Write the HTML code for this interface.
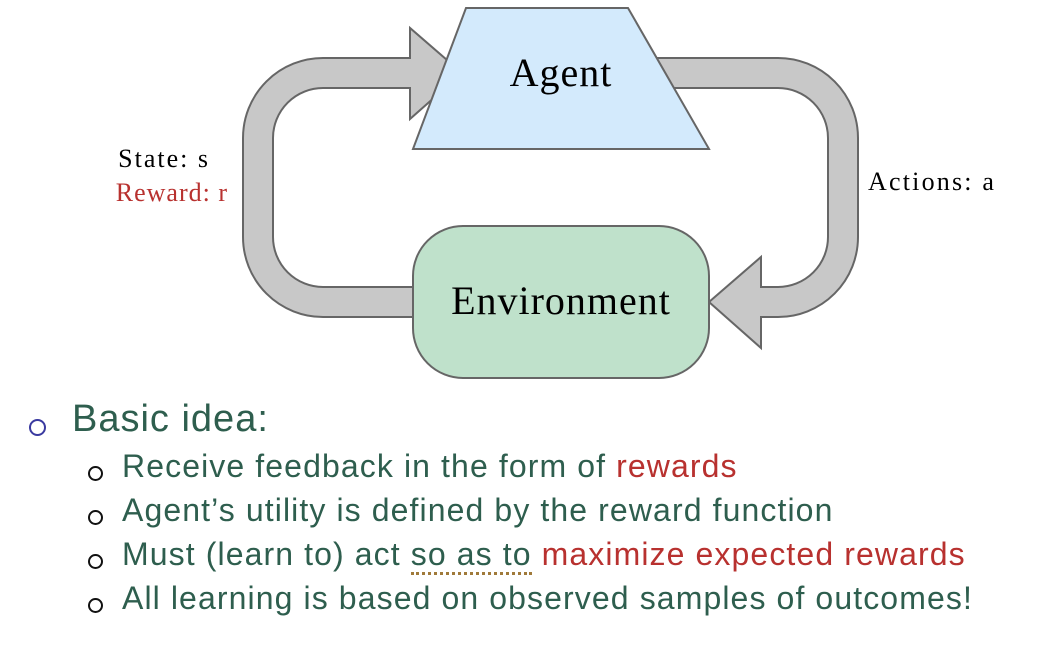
<!DOCTYPE html>
<html><head><meta charset="utf-8"><style>
body{margin:0;background:#fff;width:1064px;height:658px;overflow:hidden;position:relative;font-family:"Liberation Sans",sans-serif}
.t{position:absolute;white-space:nowrap}
.s{font-size:32px;letter-spacing:1.1px}
.g{color:#2e5e4e}.r{color:#b8312f}
.b1{position:absolute;width:13px;height:13px;border:2px solid #3a3aa0;border-radius:50%}
.b2{position:absolute;width:11px;height:11px;border:2px solid #111;border-radius:50%}
</style></head><body>
<svg width="1064" height="400" style="position:absolute;left:0;top:0">
<g fill="none" stroke-linejoin="round">
<path d="M 420 302 H 323 A 65 65 0 0 1 258 237 V 138 A 65 65 0 0 1 323 73 H 412" stroke="#666" stroke-width="32"/>
<path d="M 420 302 H 323 A 65 65 0 0 1 258 237 V 138 A 65 65 0 0 1 323 73 H 414" stroke="#c8c8c8" stroke-width="28"/>
<path d="M 640 73 H 778 A 65 65 0 0 1 843 138 V 237 A 65 65 0 0 1 778 302 H 758" stroke="#666" stroke-width="32"/>
<path d="M 640 73 H 778 A 65 65 0 0 1 843 138 V 237 A 65 65 0 0 1 778 302 H 756" stroke="#c8c8c8" stroke-width="28"/>
</g>
<polygon points="409,28 462,73 409,119" fill="#c8c8c8"/>
<polyline points="410,59 410,28 462,73 410,119 410,87" fill="none" stroke="#666" stroke-width="2"/>
<polygon points="762,257 709,302 762,348" fill="#c8c8c8"/>
<polyline points="761,288 761,257 709,302 761,348 761,316" fill="none" stroke="#666" stroke-width="2"/>
<polygon points="466,8 628,8 709,149 413,149" fill="#d3eafc" stroke="#666" stroke-width="2"/>
<rect x="413" y="226" width="296" height="152" rx="50" fill="#bfe1cb" stroke="#666" stroke-width="2"/>
<text x="561" y="86" text-anchor="middle" font-family="Liberation Serif,serif" font-size="40" letter-spacing="1">Agent</text>
<text x="561" y="314" text-anchor="middle" font-family="Liberation Serif,serif" font-size="40" letter-spacing="1">Environment</text>
<text x="210" y="167" text-anchor="end" font-family="Liberation Serif,serif" font-size="26" letter-spacing="2">State: s</text>
<text x="228" y="201" text-anchor="end" font-family="Liberation Serif,serif" font-size="26" letter-spacing="1" fill="#b8312f">Reward: r</text>
<text x="868" y="190" font-family="Liberation Serif,serif" font-size="26" letter-spacing="2.2">Actions: a</text>
</svg>
<div class="b1" style="left:29px;top:419px"></div>
<div class="t g" style="left:72px;top:398px;font-size:38px;letter-spacing:1px">Basic idea:</div>
<div class="b2" style="left:88px;top:466px"></div>
<div class="t g s" style="left:122px;top:448px">Receive feedback in the form of <span class="r">rewards</span></div>
<div class="b2" style="left:88px;top:510px"></div>
<div class="t g s" style="left:122px;top:492px">Agent’s utility is defined by the reward function</div>
<div class="b2" style="left:88px;top:554px"></div>
<div class="t g s" style="left:122px;top:536px">Must (learn to) act <span style="border-bottom:3px dotted #a07a3a">so as to</span> <span class="r">maximize expected rewards</span></div>
<div class="b2" style="left:88px;top:598px"></div>
<div class="t g s" style="left:122px;top:580px">All learning is based on observed samples of outcomes!</div>
</body></html>
